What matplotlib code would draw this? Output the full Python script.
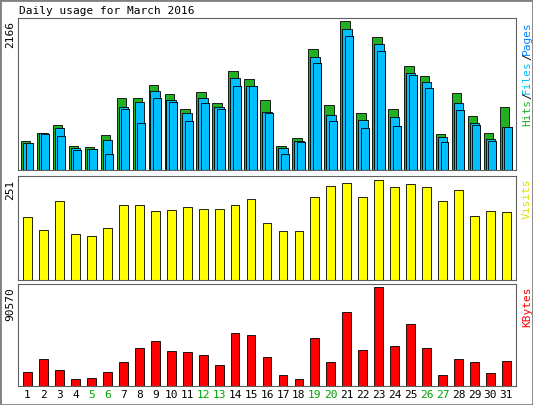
import numpy as np
import matplotlib
matplotlib.use("Agg")
import matplotlib.pyplot as plt

days = list(range(1, 32))
weekend = [5, 6, 12, 13, 19, 20, 26, 27]

hits = [427, 534, 653, 356, 341, 504, 1053, 1053, 1231, 1098, 890, 1127, 979, 1439, 1320, 1024, 356, 460, 1765, 949, 2166, 831, 1928, 890, 1513, 1365, 519, 1113, 786, 534, 920]
files = [386, 534, 608, 326, 311, 430, 920, 987, 1150, 1024, 831, 1053, 920, 1335, 1216, 846, 326, 415, 1646, 801, 2048, 727, 1825, 771, 1409, 1276, 475, 979, 682, 445, 623]
pages = [386, 519, 490, 297, 311, 237, 890, 682, 1053, 994, 712, 979, 890, 1216, 1216, 831, 237, 400, 1558, 712, 1944, 608, 1736, 638, 1380, 1187, 401, 875, 653, 415, 623]
visits = [157, 126, 199, 115, 110, 131, 187, 187, 172, 175, 183, 178, 178, 187, 204, 144, 123, 123, 209, 235, 243, 209, 251, 233, 240, 233, 199, 225, 160, 172, 170]
kbytes = [12500, 24500, 15000, 6200, 7000, 12500, 22000, 34500, 41500, 32000, 31000, 28500, 19500, 48500, 47000, 26500, 9900, 6200, 43800, 22000, 67800, 32800, 90570, 37000, 56600, 34500, 9900, 24500, 21700, 11800, 23100]

mono = "DejaVu Sans Mono"
fig = plt.figure(figsize=(5.33, 4.05), dpi=100)
fig.patch.set_facecolor("white")
fig.add_artist(plt.Rectangle((0, 0), 1, 1, transform=fig.transFigure, fill=False, ec="#808080", lw=2))
fig.text(0.036, 0.985, "Daily usage for March 2016", ha="left", va="top", family=mono, fontsize=8)

W, H = 533, 405
def panel(top, bottom):
    return fig.add_axes([18 / W, 1 - bottom / H, 498 / W, (bottom - top) / H])

x = np.array(days)
ax1 = panel(18, 170)
ax1.bar(x - 0.12, hits, 0.6, color="#22b022", ec="black", lw=0.6)
ax1.bar(x + 0.0, files, 0.6, color="#00bfff", ec="black", lw=0.6)
ax1.bar(x + 0.12, pages, 0.5, color="#0080ff", ec="black", lw=0.6, zorder=0)
ax1.bar(x + 0.12, pages, 0.5, color="#00bfff", ec="black", lw=0.6)
ax1.set_ylim(0, 2166 * 1.02)
ax1.set_yticks([2166])

ax2 = panel(176, 280)
ax2.bar(x, visits, 0.55, color="#ffff00", ec="black", lw=0.6)
ax2.set_ylim(0, 251 * 1.04)
ax2.set_yticks([251])

ax3 = panel(284, 386)
ax3.bar(x, kbytes, 0.55, color="#ff0000", ec="black", lw=0.6)
ax3.set_ylim(0, 90570 * 1.03)
ax3.set_yticks([90570])

for ax in (ax1, ax2, ax3):
    ax.set_xlim(0.4, 31.6)
    ax.set_xticks([])
    ax.tick_params(axis="y", length=0, pad=2)
    for lab in ax.get_yticklabels():
        lab.set_rotation(90)
        lab.set_va("top")
        lab.set_family(mono)
        lab.set_fontsize(8)
    for s in ax.spines.values():
        s.set_color("#606060")

# labels at the bottom
for d in days:
    fig.text((18 + (d - 0.4) / 31.2 * 498) / W, 10 / H, str(d), ha="center", va="center",
             family=mono, fontsize=8, color="#00a000" if d in weekend else "black")

# right labels
def rlabel(ax, parts):
    y = 0.98
    for txt, c in parts:
        t = ax.text(1.012, y, txt, transform=ax.transAxes, rotation=90, ha="left", va="top",
                    family=mono, fontsize=8, color=c)
        y -= len(txt) * 6.5 / (ax.get_position().height * H)

rlabel(ax1, [("Pages", "#0080ff"), ("/", "black"), ("Files", "#00bfff"), ("/", "black"), ("Hits", "#22b022")])
rlabel(ax2, [("Visits", "#e0e000")])
rlabel(ax3, [("KBytes", "#ff0000")])

fig.savefig("out.png", dpi=100)
